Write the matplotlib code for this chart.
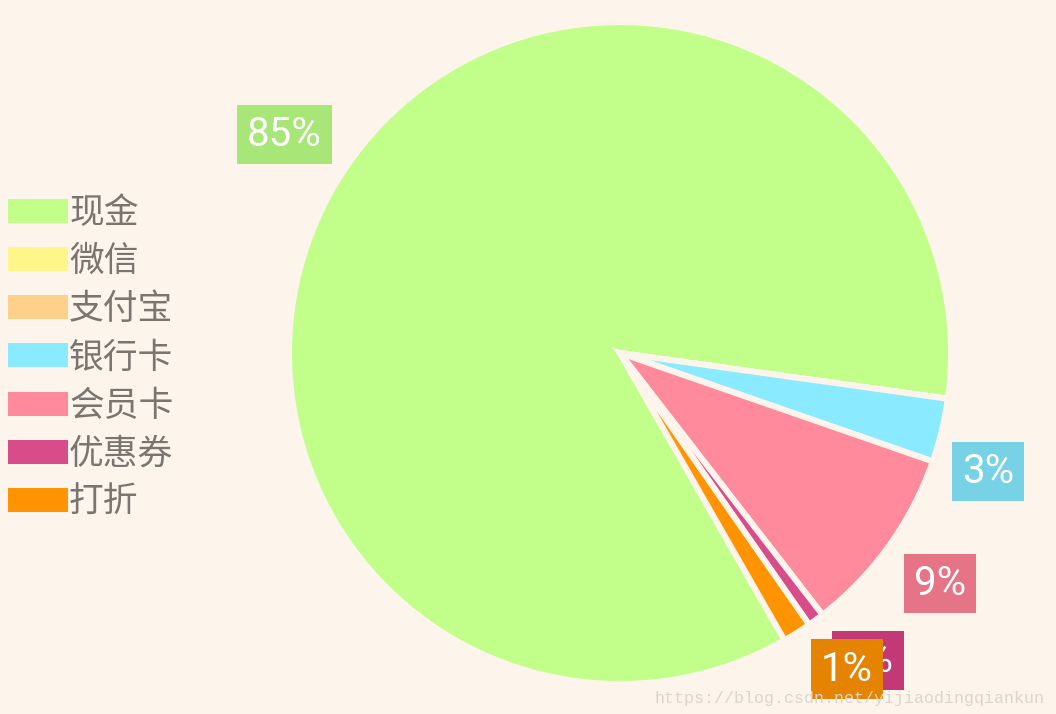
import matplotlib.pyplot as plt
from matplotlib.patches import Patch

plt.rcParams['font.family'] = ['Noto Sans CJK SC', 'DejaVu Sans']

names = ['现金', '微信', '支付宝', '银行卡', '会员卡', '优惠券', '打折']
values = [85.4, 0, 0, 3.1, 9.2, 0.8, 1.4]
colors = ['#c2ff8a', '#fff68a', '#ffd08a', '#8aeaff', '#ff8a9c', '#d84c8a', '#ff9400']
box_colors = ['#a8e678', '#e6dd78', '#e6b978', '#76d2e4', '#e57586', '#c33876', '#e48400']
bg = '#fdf5ec'

# small nudges (pixels) so the value boxes sit where the original app put them
nudge = [(-12, 0), (0, 0), (0, 0), (-12, -27), (3, -3), (17, 7), (18, 14)]

fig = plt.figure(figsize=(10.56, 7.14), dpi=100, facecolor=bg)
ax = fig.add_axes([0, 0, 1, 1])
ax.set_facecolor(bg)


def pct(p):
    return '' if p < 0.05 else '{:.0f}%'.format(p)


wedges, texts, autotexts = ax.pie(
    values,
    colors=colors,
    startangle=-60.2,
    counterclock=False,
    center=(620, 361),
    radius=331,
    autopct=pct,
    pctdistance=1.18,
    wedgeprops=dict(edgecolor=bg, linewidth=4.3),
    textprops=dict(color='white', fontsize=29, family='Roboto'),
)
for t, c, (dx, dy) in zip(autotexts, box_colors, nudge):
    if t.get_text():
        x, y = t.get_position()
        t.set_position((x + dx, y + dy))
        t.set_bbox(dict(boxstyle='square,pad=0.25', facecolor=c, edgecolor='none'))

ax.set_xlim(0, 1056)
ax.set_ylim(0, 714)
ax.set_aspect('auto')
ax.axis('off')

handles = [Patch(facecolor=c, edgecolor='none') for c in colors]
leg = ax.legend(
    handles, names,
    loc='upper left', bbox_to_anchor=(8 / 1056, 1 - 196 / 714),
    frameon=False, fontsize=25,
    handlelength=1.73, handleheight=0.69, handletextpad=0.03,
    labelspacing=0.38, borderpad=0, borderaxespad=0,
)
for t in leg.get_texts():
    t.set_color('#7b756f')

fig.text(1045 / 1056, 1 - 703 / 714, 'https://blog.csdn.net/yijiaodingqiankun',
         family='Liberation Mono', fontsize=12, color='#ddd5cb', ha='right')

fig.savefig('out.png', dpi=100, facecolor=bg)
